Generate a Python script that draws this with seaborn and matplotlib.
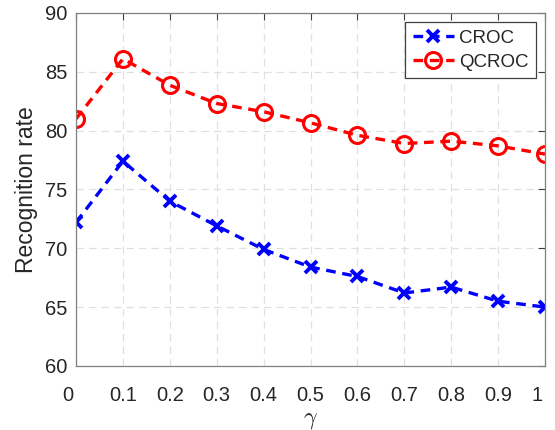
import matplotlib
matplotlib.use("Agg")
import matplotlib.pyplot as plt
import matplotlib.transforms as mtransforms
import seaborn as sns
import pandas as pd

gamma = [0, 0.1, 0.2, 0.3, 0.4, 0.5, 0.6, 0.7, 0.8, 0.9, 1.0]
croc = [72.2, 77.4, 74.0, 71.9, 69.9, 68.4, 67.6, 66.2, 66.7, 65.5, 65.0]
qcroc = [81.0, 86.1, 83.85, 82.3, 81.6, 80.66, 79.6, 78.9, 79.1, 78.7, 78.0]
xticks = [0, 0.1, 0.2, 0.3, 0.4, 0.5, 0.6, 0.7, 0.8, 0.9, 1]
xticklabels = ["0", "0.1", "0.2", "0.3", "0.4", "0.5", "0.6", "0.7", "0.8", "0.9", "1"]
yticks = [60, 65, 70, 75, 80, 85, 90]

sns.set_style("white")
plt.rcParams['font.family'] = ['Liberation Sans', 'DejaVu Sans']
plt.rcParams['mathtext.fontset'] = 'cm'

df = pd.DataFrame({"gamma": gamma, "CROC": croc, "QCROC": qcroc})

fig = plt.figure(figsize=(5.55, 4.30), dpi=100)
ax = fig.add_axes([0.137, 0.149, 0.845, 0.821])

dash = (0, (2.9, 2.0))
sns.lineplot(data=df, x="gamma", y="CROC", ax=ax, color="#0000ff", linestyle=dash,
             linewidth=2.4, marker="x", markersize=9, markeredgewidth=2.8,
             markeredgecolor="#0000ff", label="CROC")
sns.lineplot(data=df, x="gamma", y="QCROC", ax=ax, color="#ff0000", linestyle=dash,
             linewidth=2.4, marker="o", markersize=11.5, markeredgewidth=2.2,
             markerfacecolor="none", markeredgecolor="#ff0000", label="QCROC")

ax.set_xlim(0, 1)
ax.set_ylim(60, 90)
ax.set_xticks(xticks)
ax.set_xticklabels(xticklabels)
ax.set_yticks(yticks)
ax.tick_params(axis='both', labelsize=14.5, direction='in', length=5, width=0.8,
               colors='#404040', labelcolor='#262626', top=True, right=True)
ax.tick_params(axis='x', pad=14.5)
ax.tick_params(axis='y', pad=6)
ax.grid(True, color='#e0e0e0', linestyle=(0, (6, 4)), linewidth=0.9)
for s in ax.spines.values():
    s.set_color('#808080')
    s.set_linewidth(0.9)

# nudge the end labels inward like the reference
labels = ax.get_xticklabels()
shift_l = mtransforms.ScaledTranslation(-8 / 100, 0, fig.dpi_scale_trans)
for lab in (labels[0], labels[-1]):
    lab.set_transform(lab.get_transform() + shift_l)

ax.set_xlabel(r'$\gamma$', fontsize=17, color='#262626', labelpad=3)
ax.set_ylabel('Recognition rate', fontsize=16.5, color='#262626', labelpad=5)

leg = ax.legend(loc='upper right', fontsize=13.5, frameon=True, fancybox=False,
                edgecolor='#404040', framealpha=1, handlelength=2.2, handletextpad=0.25,
                borderpad=0.4, labelspacing=0.35, borderaxespad=0.5)
leg.get_frame().set_linewidth(0.9)

fig.savefig("out.png", dpi=100)
